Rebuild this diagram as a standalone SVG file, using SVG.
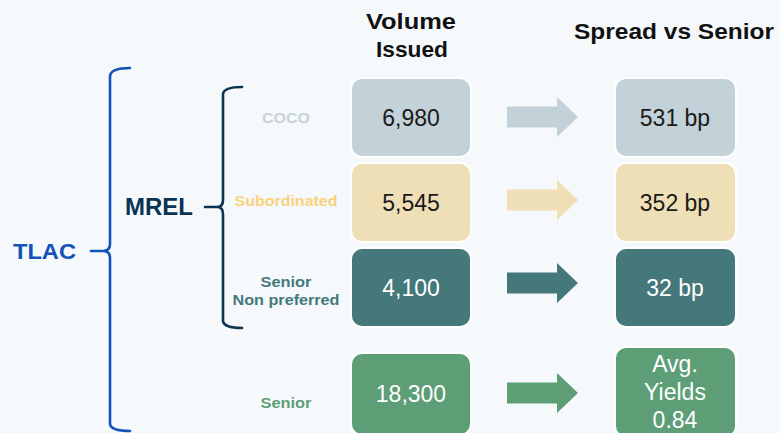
<svg xmlns="http://www.w3.org/2000/svg" width="780" height="433" viewBox="0 0 780 433">
  <style>
    .hdr { font-family: "Liberation Sans", Arial, sans-serif; font-weight: bold; font-size: 22px; fill: #111; text-anchor: middle; }
    .lbl { font-family: "Liberation Sans", Arial, sans-serif; font-weight: bold; font-size: 14px; text-anchor: middle; }
    .big { font-family: "Liberation Sans", Arial, sans-serif; font-weight: bold; }
    .val { font-family: "Liberation Sans", Arial, sans-serif; font-size: 23px; text-anchor: middle; }
    .box { stroke: #ffffff; stroke-width: 2; }
    .brace { fill: none; stroke-width: 2.6; stroke-linecap: round; stroke-linejoin: round; }
  </style>
  <defs>
    <path id="arrow" d="M0,-10.5 H50 V-20 L71,0 L50,20 V10.5 H0 Z"/>
  </defs>

  <rect x="0" y="0" width="780" height="433" fill="#f5f9fb"/>

  <!-- column headings -->
  <g id="headers">
    <text class="hdr" x="411" y="29" textLength="90" lengthAdjust="spacingAndGlyphs">Volume</text>
    <text class="hdr" x="412" y="57" textLength="72" lengthAdjust="spacingAndGlyphs">Issued</text>
    <text class="hdr" x="674" y="39" textLength="200" lengthAdjust="spacingAndGlyphs">Spread vs Senior</text>
  </g>

  <!-- braces -->
  <g id="tlac">
    <path class="brace" stroke="#1452b8" d="M130,68 Q111,68 110,76 L110,244 Q110,251 103,251 L91,251 M103,251 Q110,251 110,258 L110,424 Q111,431 130,431"/>
    <text class="big" x="13" y="259" font-size="22" fill="#1452b8" textLength="63" lengthAdjust="spacingAndGlyphs">TLAC</text>
  </g>
  <g id="mrel">
    <path class="brace" stroke="#0b3352" d="M242,87 Q224,87 223,94 L223,200 Q223,207 217,207 L205,207 M217,207 Q223,207 223,214 L223,321 Q224,328 242,328"/>
    <text class="big" x="125" y="215" font-size="23" fill="#0b3352" textLength="68" lengthAdjust="spacingAndGlyphs">MREL</text>
  </g>

  <!-- row labels -->
  <g id="label-coco"><text class="lbl" x="286" y="123" fill="#c6d3d9" textLength="48" lengthAdjust="spacingAndGlyphs">COCO</text></g>
  <g id="label-sub"><text class="lbl" x="286" y="206" fill="#f9d27e" textLength="103" lengthAdjust="spacingAndGlyphs">Subordinated</text></g>
  <g id="label-snp">
    <text class="lbl" x="286" y="287" fill="#44797c" textLength="51" lengthAdjust="spacingAndGlyphs">Senior</text>
    <text class="lbl" x="286" y="305" fill="#44797c" textLength="107" lengthAdjust="spacingAndGlyphs">Non preferred</text>
  </g>
  <g id="label-senior"><text class="lbl" x="286" y="408" fill="#5d9e77" textLength="51" lengthAdjust="spacingAndGlyphs">Senior</text></g>

  <!-- volume boxes -->
  <g id="vol-coco">
    <rect class="box" x="351" y="78" width="120" height="79" rx="11" fill="#c3d1d8"/>
    <text class="val" x="411" y="126" fill="#1a1a1a">6,980</text>
  </g>
  <g id="vol-sub">
    <rect class="box" x="351" y="163" width="120" height="79" rx="11" fill="#efdfb6"/>
    <text class="val" x="411" y="211" fill="#1a1a1a">5,545</text>
  </g>
  <g id="vol-snp">
    <rect class="box" x="351" y="248" width="120" height="79" rx="11" fill="#44787b"/>
    <text class="val" x="411" y="296" fill="#ffffff">4,100</text>
  </g>
  <g id="vol-senior">
    <rect class="box" x="351" y="353" width="120" height="82" rx="11" fill="#5d9e77"/>
    <text class="val" x="411" y="402" fill="#ffffff">18,300</text>
  </g>

  <!-- spread boxes -->
  <g id="spr-coco">
    <rect class="box" x="615" y="78" width="121" height="79" rx="11" fill="#c3d1d8"/>
    <text class="val" x="675" y="126" fill="#1a1a1a">531 bp</text>
  </g>
  <g id="spr-sub">
    <rect class="box" x="615" y="163" width="121" height="79" rx="11" fill="#efdfb6"/>
    <text class="val" x="675" y="211" fill="#1a1a1a">352 bp</text>
  </g>
  <g id="spr-snp">
    <rect class="box" x="615" y="248" width="121" height="79" rx="11" fill="#44787b"/>
    <text class="val" x="675" y="296" fill="#ffffff">32 bp</text>
  </g>
  <g id="spr-senior">
    <rect class="box" x="615" y="347" width="121" height="90" rx="11" fill="#5d9e77"/>
    <text class="val" x="675" y="372" fill="#ffffff">Avg.</text>
    <text class="val" x="675" y="400" fill="#ffffff">Yields</text>
    <text class="val" x="675" y="428" fill="#ffffff">0.84</text>
  </g>

  <!-- connectors -->
  <g id="connectors">
    <use href="#arrow" x="507" y="117" fill="#c3d1d8"/>
    <use href="#arrow" x="507" y="200" fill="#efdfb6"/>
    <use href="#arrow" x="507" y="283" fill="#44787b"/>
    <use href="#arrow" x="507" y="393" fill="#5d9e77"/>
  </g>
</svg>
